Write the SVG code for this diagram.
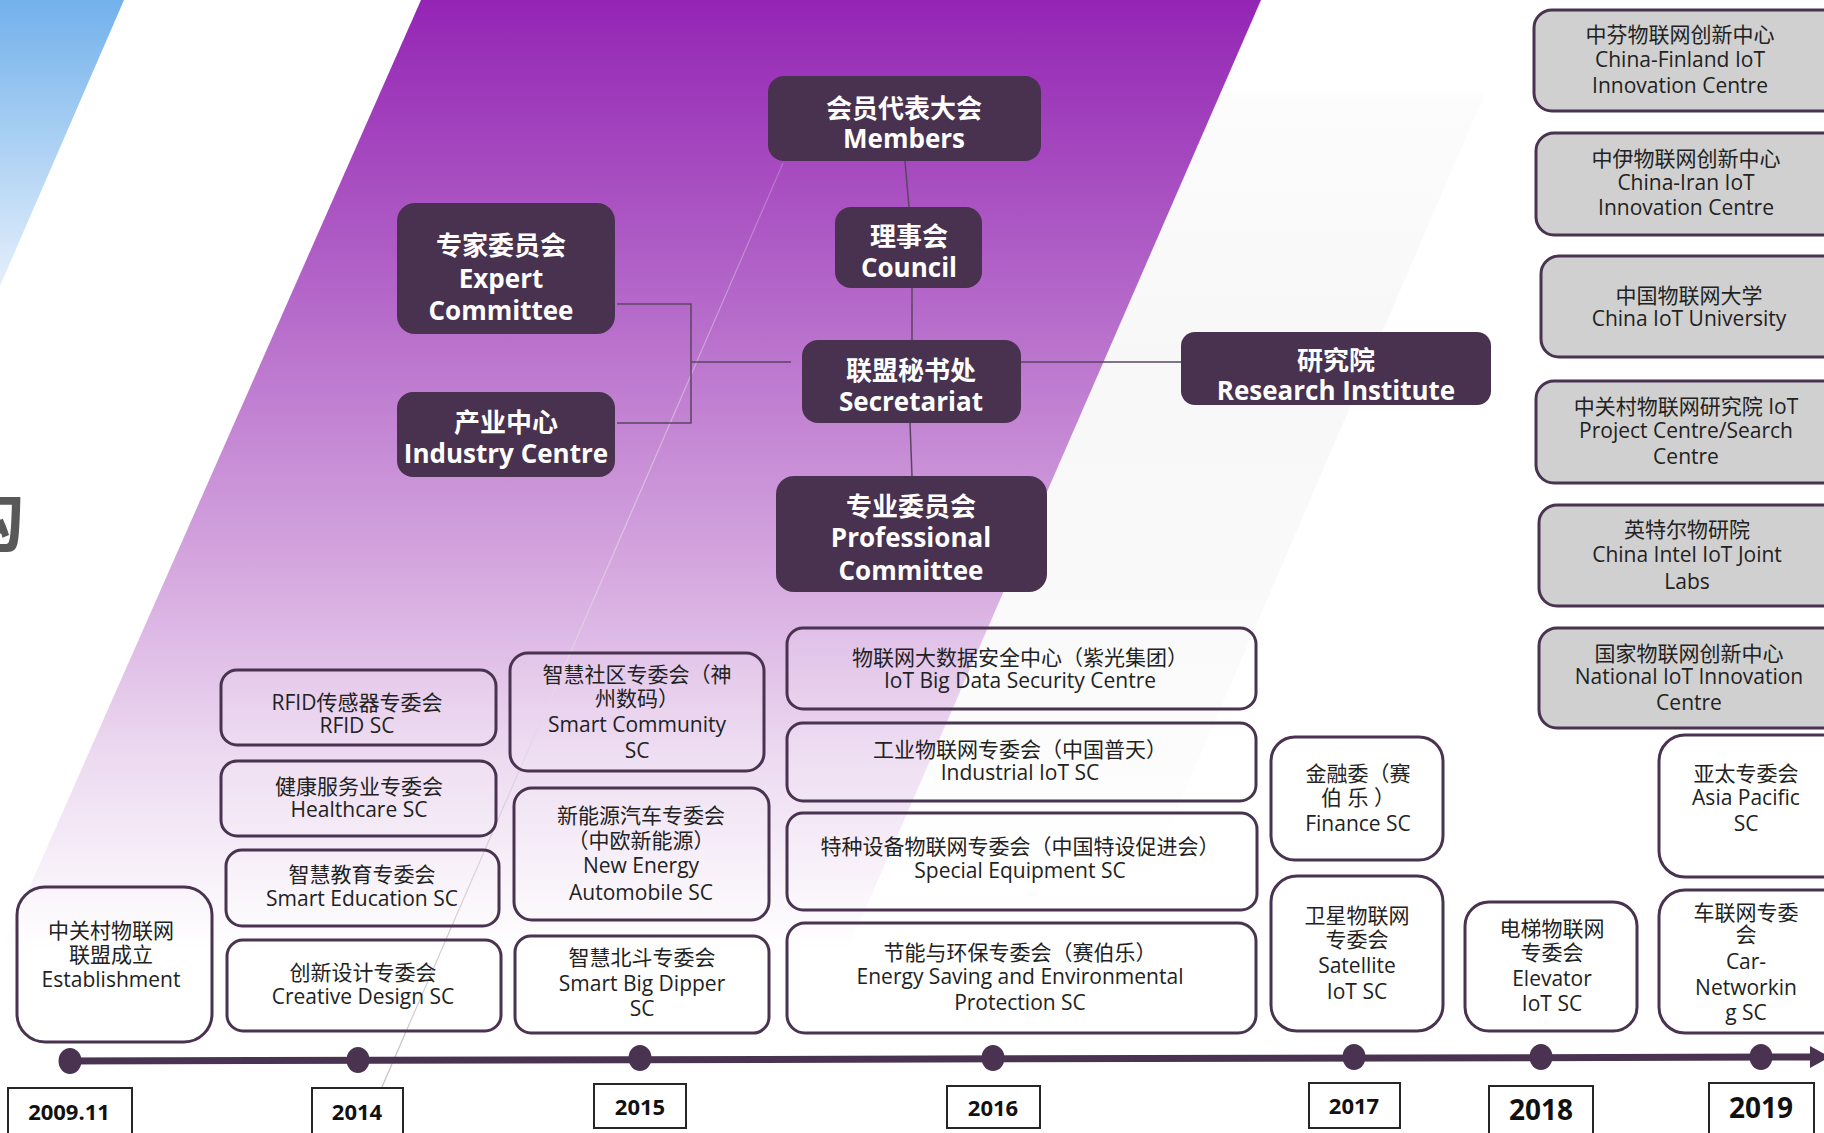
<svg xmlns="http://www.w3.org/2000/svg" width="1824" height="1133" viewBox="0 0 1824 1133">
<defs>
<linearGradient id="gBlue" gradientUnits="userSpaceOnUse" x1="0" y1="0" x2="0" y2="290">
<stop offset="0" stop-color="#72b1ec"/>
<stop offset="1" stop-color="#e6f0fb"/>
</linearGradient>
<linearGradient id="gPurple" gradientUnits="userSpaceOnUse" x1="0" y1="0" x2="0" y2="1000">
<stop offset="0" stop-color="#9425b4"/>
<stop offset="0.3" stop-color="#b468c9"/>
<stop offset="0.56" stop-color="#d4a5de"/>
<stop offset="0.76" stop-color="#eddbf1"/>
<stop offset="0.95" stop-color="#ffffff"/>
</linearGradient>
<linearGradient id="gShade" gradientUnits="userSpaceOnUse" x1="0" y1="0" x2="0" y2="1000">
<stop offset="0" stop-color="#000" stop-opacity="0"/>
<stop offset="0.09" stop-color="#000" stop-opacity="0"/>
<stop offset="0.1" stop-color="#000" stop-opacity="0.012"/>
<stop offset="0.35" stop-color="#000" stop-opacity="0.03"/>
<stop offset="0.65" stop-color="#000" stop-opacity="0.02"/>
<stop offset="0.9" stop-color="#000" stop-opacity="0"/>
</linearGradient>
<linearGradient id="gLine" gradientUnits="userSpaceOnUse" x1="0" y1="160" x2="0" y2="1133">
<stop offset="0" stop-color="#e3c9ea" stop-opacity="0.3"/>
<stop offset="0.6" stop-color="#e2d2e6"/>
<stop offset="1" stop-color="#bdbdbd"/>
</linearGradient>
<style>
.dk{fill:#48324f}
.wb{fill:#ffffff;fill-opacity:0.12;stroke:#4a3350;stroke-width:3}
.gb{fill:#d0d0d0;stroke:#4a3350;stroke-width:3}
.yb{fill:#ffffff;stroke:#262626;stroke-width:2}
.tb{font-family:"Open Sans","Noto Sans CJK SC",sans-serif;font-weight:700;font-size:26px;fill:#ffffff;text-anchor:middle}
.tr{font-family:"Open Sans","Noto Sans CJK SC",sans-serif;font-size:21px;fill:#222222;text-anchor:middle}
.ty{font-family:"Open Sans","Noto Sans CJK SC",sans-serif;font-weight:700;font-size:22px;fill:#111111;text-anchor:middle}
.ty2{font-size:28px}
.cn{stroke:#5b4661;stroke-width:1.5;fill:none}
</style>
</defs>

<g id="background">
<rect x="0" y="0" width="1824" height="1133" fill="#ffffff"/>
<polygon points="0,0 124,0 0,286" fill="url(#gBlue)"/>
<polygon points="1261,0 1525,0 1038,1133 768,1133" fill="url(#gShade)"/>
<polygon points="421,0 1261,0 768,1133 -79,1133" fill="url(#gPurple)"/>
<line x1="783" y1="163" x2="362" y2="1133" stroke="url(#gLine)" stroke-width="1.2"/>
<text x="-46" y="546" font-family="'Noto Sans CJK SC',sans-serif" font-weight="700" font-size="70" fill="#595959">构</text>
</g>

<g id="connectors">
<line class="cn" x1="905" y1="161" x2="909" y2="207"/>
<line class="cn" x1="912" y1="288" x2="912" y2="340"/>
<line class="cn" x1="910" y1="423" x2="912" y2="476"/>
<polyline class="cn" points="617,304 691,304 691,423 617,423"/>
<line class="cn" x1="691" y1="362" x2="791" y2="362"/>
<line class="cn" x1="1021" y1="362" x2="1181" y2="362"/>
</g>

<g id="timeline">
<line x1="60" y1="1061" x2="1814" y2="1057" stroke="#4a3350" stroke-width="7"/>
<polygon points="1810,1046 1830,1057 1810,1068" fill="#4a3350"/>
<ellipse cx="70" cy="1061" rx="11.5" ry="13" fill="#4a3350"/>
<ellipse cx="358" cy="1060" rx="11.5" ry="13" fill="#4a3350"/>
<ellipse cx="640" cy="1058" rx="11.5" ry="13" fill="#4a3350"/>
<ellipse cx="993" cy="1058" rx="11.5" ry="13" fill="#4a3350"/>
<ellipse cx="1354" cy="1057" rx="11.5" ry="13" fill="#4a3350"/>
<ellipse cx="1541" cy="1057" rx="11.5" ry="13" fill="#4a3350"/>
<ellipse cx="1761" cy="1057" rx="11.5" ry="13" fill="#4a3350"/>
</g>

<g id="node-members"><rect class="dk" x="768" y="76" width="273" height="85" rx="16"/>
<text class="tb" x="904" y="118">会员代表大会</text><text class="tb" x="904" y="148">Members</text></g>
<g id="node-council"><rect class="dk" x="835" y="207" width="147" height="81" rx="16"/>
<text class="tb" x="909" y="246">理事会</text><text class="tb" x="909" y="277">Council</text></g>
<g id="node-secretariat"><rect class="dk" x="802" y="340" width="219" height="83" rx="16"/>
<text class="tb" x="911" y="380">联盟秘书处</text><text class="tb" x="911" y="411">Secretariat</text></g>
<g id="node-professional"><rect class="dk" x="776" y="476" width="271" height="116" rx="18"/>
<text class="tb" x="911" y="516">专业委员会</text><text class="tb" x="911" y="547">Professional</text><text class="tb" x="911" y="580">Committee</text></g>
<g id="node-expert"><rect class="dk" x="397" y="203" width="218" height="131" rx="18"/>
<text class="tb" x="501" y="255">专家委员会</text><text class="tb" x="501" y="288">Expert</text><text class="tb" x="501" y="320">Committee</text></g>
<g id="node-industry"><rect class="dk" x="397" y="392" width="218" height="85" rx="16"/>
<text class="tb" x="506" y="432">产业中心</text><text class="tb" x="506" y="463">Industry Centre</text></g>
<g id="node-research"><rect class="dk" x="1181" y="332" width="310" height="73" rx="14"/>
<text class="tb" x="1336" y="370">研究院</text><text class="tb" x="1336" y="400">Research Institute</text></g>

<g id="node-finland"><rect class="gb" x="1534" y="10" width="330" height="101" rx="18"/>
<text class="tr" x="1680" y="42">中芬物联网创新中心</text><text class="tr" x="1680" y="67">China-Finland IoT</text><text class="tr" x="1680" y="93">Innovation Centre</text></g>
<g id="node-iran"><rect class="gb" x="1536" y="133" width="330" height="102" rx="18"/>
<text class="tr" x="1686" y="166">中伊物联网创新中心</text><text class="tr" x="1686" y="190">China-Iran IoT</text><text class="tr" x="1686" y="215">Innovation Centre</text></g>
<g id="node-university"><rect class="gb" x="1541" y="256" width="330" height="101" rx="18"/>
<text class="tr" x="1689" y="303">中国物联网大学</text><text class="tr" x="1689" y="326">China IoT University</text></g>
<g id="node-zgc"><rect class="gb" x="1536" y="381" width="330" height="102" rx="18"/>
<text class="tr" x="1686" y="414">中关村物联网研究院 IoT</text><text class="tr" x="1686" y="438">Project Centre/Search</text><text class="tr" x="1686" y="464">Centre</text></g>
<g id="node-intel"><rect class="gb" x="1539" y="505" width="330" height="101" rx="18"/>
<text class="tr" x="1687" y="537">英特尔物研院</text><text class="tr" x="1687" y="562">China Intel IoT Joint</text><text class="tr" x="1687" y="589">Labs</text></g>
<g id="node-national"><rect class="gb" x="1539" y="628" width="330" height="100" rx="18"/>
<text class="tr" x="1689" y="661">国家物联网创新中心</text><text class="tr" x="1689" y="684">National IoT Innovation</text><text class="tr" x="1689" y="710">Centre</text></g>

<g id="node-establishment"><rect class="wb" x="17" y="887" width="195" height="155" rx="28"/>
<text class="tr" x="111" y="938">中关村物联网</text><text class="tr" x="111" y="962">联盟成立</text><text class="tr" x="111" y="987">Establishment</text></g>
<g id="node-rfid"><rect class="wb" x="221" y="670" width="275" height="75" rx="16"/>
<text class="tr" x="357" y="710">RFID传感器专委会</text><text class="tr" x="357" y="733">RFID SC</text></g>
<g id="node-healthcare"><rect class="wb" x="221" y="761" width="275" height="75" rx="16"/>
<text class="tr" x="359" y="794">健康服务业专委会</text><text class="tr" x="359" y="817">Healthcare SC</text></g>
<g id="node-education"><rect class="wb" x="226" y="850" width="273" height="76" rx="16"/>
<text class="tr" x="362" y="882">智慧教育专委会</text><text class="tr" x="362" y="906">Smart Education SC</text></g>
<g id="node-design"><rect class="wb" x="227" y="940" width="274" height="91" rx="16"/>
<text class="tr" x="363" y="980">创新设计专委会</text><text class="tr" x="363" y="1004">Creative Design SC</text></g>

<g id="node-community"><rect class="wb" x="510" y="653" width="254" height="118" rx="18"/>
<text class="tr" x="637" y="682">智慧社区专委会（神</text><text class="tr" x="637" y="706">州数码）</text><text class="tr" x="637" y="732">Smart Community</text><text class="tr" x="637" y="758">SC</text></g>
<g id="node-newenergy"><rect class="wb" x="514" y="788" width="255" height="132" rx="18"/>
<text class="tr" x="641" y="823">新能源汽车专委会</text><text class="tr" x="641" y="848">（中欧新能源）</text><text class="tr" x="641" y="873">New Energy</text><text class="tr" x="641" y="900">Automobile SC</text></g>
<g id="node-bigdipper"><rect class="wb" x="515" y="936" width="254" height="97" rx="16"/>
<text class="tr" x="642" y="965">智慧北斗专委会</text><text class="tr" x="642" y="991">Smart Big Dipper</text><text class="tr" x="642" y="1016">SC</text></g>

<g id="node-bigdata"><rect class="wb" x="787" y="628" width="469" height="81" rx="16"/>
<text class="tr" x="1020" y="665">物联网大数据安全中心（紫光集团）</text><text class="tr" x="1020" y="688">IoT Big Data Security Centre</text></g>
<g id="node-industrial"><rect class="wb" x="787" y="723" width="469" height="78" rx="16"/>
<text class="tr" x="1020" y="757">工业物联网专委会（中国普天）</text><text class="tr" x="1020" y="780">Industrial IoT SC</text></g>
<g id="node-special"><rect class="wb" x="787" y="813" width="470" height="97" rx="16"/>
<text class="tr" x="1020" y="854">特种设备物联网专委会（中国特设促进会）</text><text class="tr" x="1020" y="878">Special Equipment SC</text></g>
<g id="node-energy"><rect class="wb" x="787" y="923" width="469" height="110" rx="18"/>
<text class="tr" x="1020" y="960">节能与环保专委会（赛伯乐）</text><text class="tr" x="1020" y="984">Energy Saving and Environmental</text><text class="tr" x="1020" y="1010">Protection SC</text></g>

<g id="node-finance"><rect class="wb" x="1271" y="737" width="172" height="123" rx="24"/>
<text class="tr" x="1358" y="781">金融委（赛</text><text class="tr" x="1358" y="805">伯 乐 ）</text><text class="tr" x="1358" y="831">Finance SC</text></g>
<g id="node-satellite"><rect class="wb" x="1271" y="876" width="172" height="155" rx="26"/>
<text class="tr" x="1357" y="923">卫星物联网</text><text class="tr" x="1357" y="947">专委会</text><text class="tr" x="1357" y="973">Satellite</text><text class="tr" x="1357" y="999">IoT SC</text></g>
<g id="node-elevator"><rect class="wb" x="1465" y="902" width="172" height="129" rx="24"/>
<text class="tr" x="1552" y="936">电梯物联网</text><text class="tr" x="1552" y="960">专委会</text><text class="tr" x="1552" y="986">Elevator</text><text class="tr" x="1552" y="1011">IoT SC</text></g>
<g id="node-asiapacific"><rect class="wb" x="1659" y="735" width="200" height="142" rx="26"/>
<text class="tr" x="1746" y="781">亚太专委会</text><text class="tr" x="1746" y="805">Asia Pacific</text><text class="tr" x="1746" y="831">SC</text></g>
<g id="node-carnet"><rect class="wb" x="1659" y="890" width="200" height="143" rx="26"/>
<text class="tr" x="1746" y="920">车联网专委</text><text class="tr" x="1746" y="942">会</text><text class="tr" x="1746" y="969">Car-</text><text class="tr" x="1746" y="995">Networkin</text><text class="tr" x="1746" y="1020">g SC</text></g>

<g id="year-2009"><rect class="yb" x="8" y="1088" width="124" height="60"/><text class="ty" x="69" y="1120">2009.11</text></g>
<g id="year-2014"><rect class="yb" x="312" y="1088" width="91" height="60"/><text class="ty" x="357" y="1120">2014</text></g>
<g id="year-2015"><rect class="yb" x="594" y="1084" width="92" height="44"/><text class="ty" x="640" y="1115">2015</text></g>
<g id="year-2016"><rect class="yb" x="947" y="1086" width="93" height="42"/><text class="ty" x="993" y="1116">2016</text></g>
<g id="year-2017"><rect class="yb" x="1309" y="1083" width="91" height="45"/><text class="ty" x="1354" y="1114">2017</text></g>
<g id="year-2018"><rect class="yb" x="1489" y="1086" width="104" height="60"/><text class="ty ty2" x="1541" y="1120">2018</text></g>
<g id="year-2019"><rect class="yb" x="1709" y="1083" width="105" height="60"/><text class="ty ty2" x="1761" y="1118">2019</text></g>
</svg>
